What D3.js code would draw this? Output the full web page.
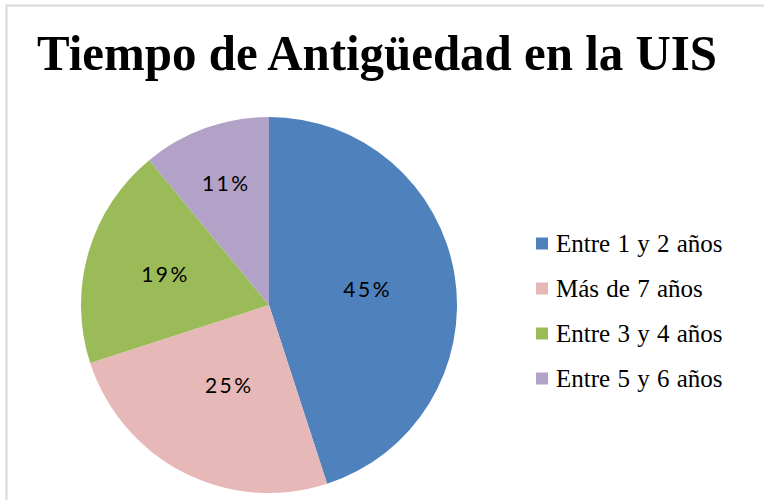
<!DOCTYPE html>
<html><head><meta charset="utf-8">
<script src="https://cdn.jsdelivr.net/npm/d3@7"></script>
<style>body{margin:0;background:#fff}svg{display:block}</style>
</head><body>
<svg id="c" width="764" height="500"></svg>
<script>
const title = "Tiempo de Antigüedad en la UIS";
const categories = ["Entre 1 y 2 años", "Más de 7 años", "Entre 3 y 4 años", "Entre 5 y 6 años"];
const values = [45, 25, 19, 11];
const colors = ["#4F81BD", "#E6B9B8", "#9BBB59", "#B3A2C7"];
const labelRadiusFactor = [0.525, 0.48, 0.58, 0.69];

const svg = d3.select("#c");
// frame
svg.append("rect").attr("x",6.5).attr("y",5.5).attr("width",800).attr("height",600)
  .attr("fill","none").attr("stroke","#d9d9d9").attr("stroke-width",2);

svg.append("text").attr("x",377).attr("y",70).attr("text-anchor","middle")
  .attr("font-family","'Liberation Serif','Times New Roman',serif").attr("font-weight","bold")
  .attr("font-size",51).attr("textLength",680).attr("lengthAdjust","spacingAndGlyphs")
  .attr("fill","#000").text(title);

const cx = 269, cy = 305, r = 188;
const pie = d3.pie().sort(null).value(d => d)(values);
const arc = d3.arc().innerRadius(0).outerRadius(r);
const g = svg.append("g").attr("transform",`translate(${cx},${cy})`);
g.selectAll("path").data(pie).join("path").attr("d",arc).attr("fill",(d,i)=>colors[i]);

g.selectAll("text.lbl").data(pie).join("text").attr("class","lbl")
  .attr("transform",(d,i)=>{
    const a = (d.startAngle+d.endAngle)/2, rr = r*labelRadiusFactor[i];
    return `translate(${rr*Math.sin(a)+1.2},${-rr*Math.cos(a)})`;
  })
  .attr("text-anchor","middle").attr("dy","0.36em")
  .attr("font-family","Lato, 'Open Sans', sans-serif").attr("font-size",21)
  .attr("letter-spacing",2.5).attr("fill","#000")
  .text((d,i)=>values[i]+"%");

const y = d3.scaleBand().domain(categories).range([221,401]);
const lg = svg.append("g");
const items = lg.selectAll("g").data(categories).join("g")
  .attr("transform",d=>`translate(536,${y(d)+y.bandwidth()/2})`);
items.append("rect").attr("x",0).attr("y",-6).attr("width",12).attr("height",12)
  .attr("fill",(d,i)=>colors[i]);
items.append("text").attr("x",20).attr("y",0).attr("dy","0.34em")
  .attr("font-family","'Liberation Serif','Times New Roman',serif").attr("font-size",25)
  .attr("word-spacing",1).attr("fill","#000").text(d=>d);
</script>
</body></html>
